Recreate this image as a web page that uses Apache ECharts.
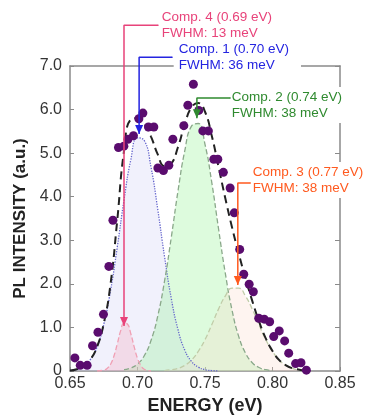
<!DOCTYPE html>
<html>
<head>
<meta charset="utf-8">
<script src="https://cdn.jsdelivr.net/npm/echarts@6/dist/echarts.min.js"></script>
<style>
  html, body { margin: 0; padding: 0; background: #fff; }
  #chart { width: 366px; height: 420px; }
</style>
</head>
<body>
<div id="chart"></div>
<script>
// measured PL points
const measEnergy = [0.6536, 0.6576, 0.6627, 0.6667, 0.6707, 0.6748, 0.6788, 0.6818, 0.6859, 0.6899,
  0.6929, 0.6970, 0.7010, 0.7040, 0.7081, 0.7121, 0.7151, 0.7192, 0.7232, 0.7262,
  0.7343, 0.7373, 0.7414, 0.7454, 0.7484, 0.7525, 0.7565, 0.7595, 0.7636, 0.7686,
  0.7717, 0.7757, 0.7787, 0.7827, 0.7858, 0.7898, 0.7939, 0.7979, 0.8009, 0.8050,
  0.8090, 0.8120, 0.8171, 0.8211, 0.8251];
const measIntensity = [0.30, 0.13, 0.13, 0.58, 0.89, 1.30, 2.40, 3.46, 5.13, 5.16,
  5.32, 5.40, 5.79, 5.92, 5.60, 5.60, 4.66, 4.60, 4.72, 5.32,
  5.63, 6.10, 6.58, 5.98, 5.51, 5.51, 4.86, 4.86, 4.56, 4.20,
  3.63, 2.79, 2.22, 1.99, 1.82, 1.21, 1.19, 1.13, 0.79, 0.92,
  0.69, 0.41, 0.17, 0.19, 0.02];

// total fit (black dashed)
const fitEnergy = [0.650, 0.655, 0.660, 0.665, 0.670, 0.675, 0.680, 0.685, 0.690, 0.695, 0.700,
  0.705, 0.710, 0.715, 0.720, 0.725, 0.730, 0.735, 0.740, 0.745, 0.750,
  0.755, 0.760, 0.765, 0.770, 0.775, 0.780, 0.785, 0.790, 0.795, 0.800,
  0.805, 0.810, 0.815, 0.820, 0.825];
const fitIntensity = [0.01, 0.04, 0.11, 0.26, 0.55, 1.09, 1.99, 3.46, 5.05, 5.77, 5.80,
  5.68, 5.38, 4.97, 4.70, 4.76, 5.14, 5.66, 6.05, 6.15, 5.95,
  5.40, 4.69, 3.97, 3.30, 2.69, 2.13, 1.61, 1.14, 0.75, 0.46,
  0.25, 0.13, 0.06, 0.03, 0.01];

// components
const comp1Energy = [0.650, 0.655, 0.660, 0.665, 0.670, 0.675, 0.680, 0.685, 0.690, 0.695, 0.700, 0.705,
  0.710, 0.715, 0.720, 0.725, 0.730, 0.735, 0.740, 0.745, 0.750, 0.755, 0.760];
const comp1Intensity = [0.01, 0.04, 0.11, 0.26, 0.55, 1.07, 1.84, 2.84, 3.92, 4.84, 5.35, 5.29,
  4.68, 3.71, 2.63, 1.67, 0.95, 0.48, 0.22, 0.09, 0.03, 0.01, 0];

const comp2Energy = [0.690, 0.695, 0.700, 0.705, 0.710, 0.715, 0.720, 0.725, 0.730, 0.735, 0.740, 0.745,
  0.750, 0.755, 0.760, 0.765, 0.770, 0.775, 0.780, 0.785, 0.790, 0.795, 0.800];
const comp2Intensity = [0.03, 0.07, 0.16, 0.35, 0.70, 1.26, 2.06, 3.06, 4.13, 5.05, 5.62, 5.68,
  5.20, 4.33, 3.27, 2.25, 1.40, 0.79, 0.41, 0.19, 0.08, 0.03, 0.01];

const comp3Energy = [0.720, 0.725, 0.730, 0.735, 0.740, 0.745, 0.750, 0.755, 0.760, 0.765, 0.770,
  0.775, 0.780, 0.785, 0.790, 0.795, 0.800, 0.805, 0.810, 0.815, 0.820, 0.825];
const comp3Intensity = [0.01, 0.03, 0.06, 0.13, 0.25, 0.45, 0.72, 1.06, 1.42, 1.72, 1.90,
  1.90, 1.72, 1.42, 1.06, 0.72, 0.45, 0.25, 0.13, 0.06, 0.02, 0.01];

const comp4Energy = [0.670, 0.675, 0.6775, 0.680, 0.6825, 0.685, 0.6875, 0.690, 0.6925, 0.695,
  0.6975, 0.700, 0.7025, 0.705, 0.710];
const comp4Intensity = [0, 0.02, 0.06, 0.15, 0.34, 0.62, 0.92, 1.10, 1.08, 0.86,
  0.56, 0.29, 0.13, 0.04, 0];

// annotations: Comp. 4, 1, 2, 3
const noteText = ['Comp. 4 (0.69 eV)\nFWHM: 13 meV', 'Comp. 1 (0.70 eV)\nFWHM: 36 meV',
  'Comp. 2 (0.74 eV)\nFWHM: 38 meV', 'Comp. 3 (0.77 eV)\nFWHM: 38 meV'];
const noteEnergy = [0.6900, 0.7012, 0.7440, 0.7743];
const noteTip = [1.11, 5.46, 5.82, 2.04];
const noteTop = [7.93, 7.20, 6.28, 4.35];
const noteEnd = [0.7153, 0.7257, 0.7687, 0.7836];

const noteColors = ['#e8437a', '#2424e0', '#2f8a2f', '#ff5a1f'];
const noteLabelPad = [[2, 4, 2, 2], [2, 12, 2, 5], [2, 2, 2, 0], [2, 1, 2, 1]];
const noteLabelOffset = [[0, 0], [0, 0], [0, 7], [0, -3]];

const pairs = (xs, ys) => xs.map((x, i) => [x, ys[i]]);
const fmtY = (v) => (v === 0 ? '0' : v.toFixed(1));
const axisGray = '#8a8a8a';

const chart = echarts.init(document.getElementById('chart'));

const compSeries = (data, lineColor, lineType, fill) => ({
  type: 'line',
  data,
  smooth: true,
  symbol: 'none',
  silent: true,
  lineStyle: { color: lineColor, width: 1.3, type: lineType },
  areaStyle: { color: fill, origin: 'start' },
  z: 2
});

const noteSeries = noteText.map((text, i) => ({
  type: 'line',
  xAxisIndex: 2,
  yAxisIndex: 2,
  silent: true,
  clip: false,
  symbol: 'none',
  z: 10,
  lineStyle: { color: noteColors[i], width: 1.5 },
  itemStyle: { color: noteColors[i] },
  data: [
    {
      value: [noteEnergy[i], noteTip[i]],
      symbol: 'triangle',
      symbolSize: [8, 9],
      symbolRotate: 180,
      symbolOffset: [0, -4.5]
    },
    [noteEnergy[i], noteTop[i]],
    {
      value: [noteEnd[i], noteTop[i]],
      symbol: 'rect',
      symbolSize: 1,
      label: {
        show: true,
        position: 'right',
        distance: 1,
        formatter: text,
        color: noteColors[i],
        fontSize: 13.5,
        lineHeight: 16,
        backgroundColor: '#fff',
        padding: noteLabelPad[i],
        offset: noteLabelOffset[i]
      }
    }
  ]
}));

chart.setOption({
  animation: false,
  textStyle: { fontFamily: 'Liberation Sans, Arial, sans-serif' },
  grid: [
    { left: 70, right: 26, top: 66, bottom: 45 },
    { left: 70, right: 26, top: 0, bottom: 45 }
  ],
  xAxis: [
    {
      gridIndex: 0,
      type: 'value',
      min: 0.65,
      max: 0.85,
      interval: 0.05,
      name: 'ENERGY (eV)',
      nameLocation: 'middle',
      nameGap: 26,
      nameTextStyle: { fontSize: 18, fontWeight: 'bold', color: '#222' },
      axisLine: { show: true, onZero: false, lineStyle: { color: axisGray, width: 1.5 } },
      axisTick: { show: true, inside: true, length: 4, lineStyle: { color: axisGray } },
      axisLabel: { fontSize: 16, color: '#333', margin: 5, formatter: (v) => v.toFixed(2) },
      splitLine: { show: false }
    },
    {
      gridIndex: 0,
      type: 'value',
      position: 'top',
      min: 0.65,
      max: 0.85,
      axisLine: { show: true, onZero: false, lineStyle: { color: axisGray, width: 1.5 } },
      axisTick: { show: false },
      axisLabel: { show: false },
      splitLine: { show: false }
    },
    { gridIndex: 1, type: 'value', min: 0.65, max: 0.85, show: false }
  ],
  yAxis: [
    {
      gridIndex: 0,
      type: 'value',
      min: 0,
      max: 7,
      interval: 1,
      name: 'PL INTENSITY (a.u.)',
      nameLocation: 'middle',
      nameGap: 39,
      nameTextStyle: { fontSize: 17, fontWeight: 'bold', color: '#222' },
      axisLine: { show: true, onZero: false, lineStyle: { color: axisGray, width: 1.5 } },
      axisTick: { show: true, inside: true, length: 4, lineStyle: { color: axisGray } },
      axisLabel: { fontSize: 16, color: '#333', margin: 8, formatter: fmtY },
      splitLine: { show: false }
    },
    {
      gridIndex: 0,
      type: 'value',
      position: 'right',
      min: 0,
      max: 7,
      interval: 1,
      axisLine: { show: true, onZero: false, lineStyle: { color: axisGray, width: 1.5 } },
      axisTick: { show: true, inside: true, length: 5, lineStyle: { color: axisGray } },
      axisLabel: { show: false },
      splitLine: { show: false }
    },
    { gridIndex: 1, type: 'value', min: 0, max: 8.5, show: false }
  ],
  series: [
    compSeries(pairs(comp1Energy, comp1Intensity), '#6464cc', 'dotted', 'rgba(205,205,245,0.4)'),
    compSeries(pairs(comp2Energy, comp2Intensity), '#8aa88a', 'dashed', 'rgba(160,245,160,0.5)'),
    compSeries(pairs(comp3Energy, comp3Intensity), '#c0cca8', 'dashed', 'rgba(250,215,200,0.4)'),
    compSeries(pairs(comp4Energy, comp4Intensity), '#f0a0b4', 'dashed', 'rgba(245,170,190,0.45)'),
    {
      type: 'line',
      data: pairs(fitEnergy, fitIntensity),
      smooth: true,
      symbol: 'none',
      silent: true,
      lineStyle: { color: '#222', width: 2, type: [8, 5] },
      z: 3
    },
    {
      type: 'scatter',
      data: pairs(measEnergy, measIntensity),
      symbolSize: 9,
      itemStyle: { color: '#5a0c6e', opacity: 1 },
      silent: true,
      z: 4
    },
    ...noteSeries
  ]
});
</script>
</body>
</html>
